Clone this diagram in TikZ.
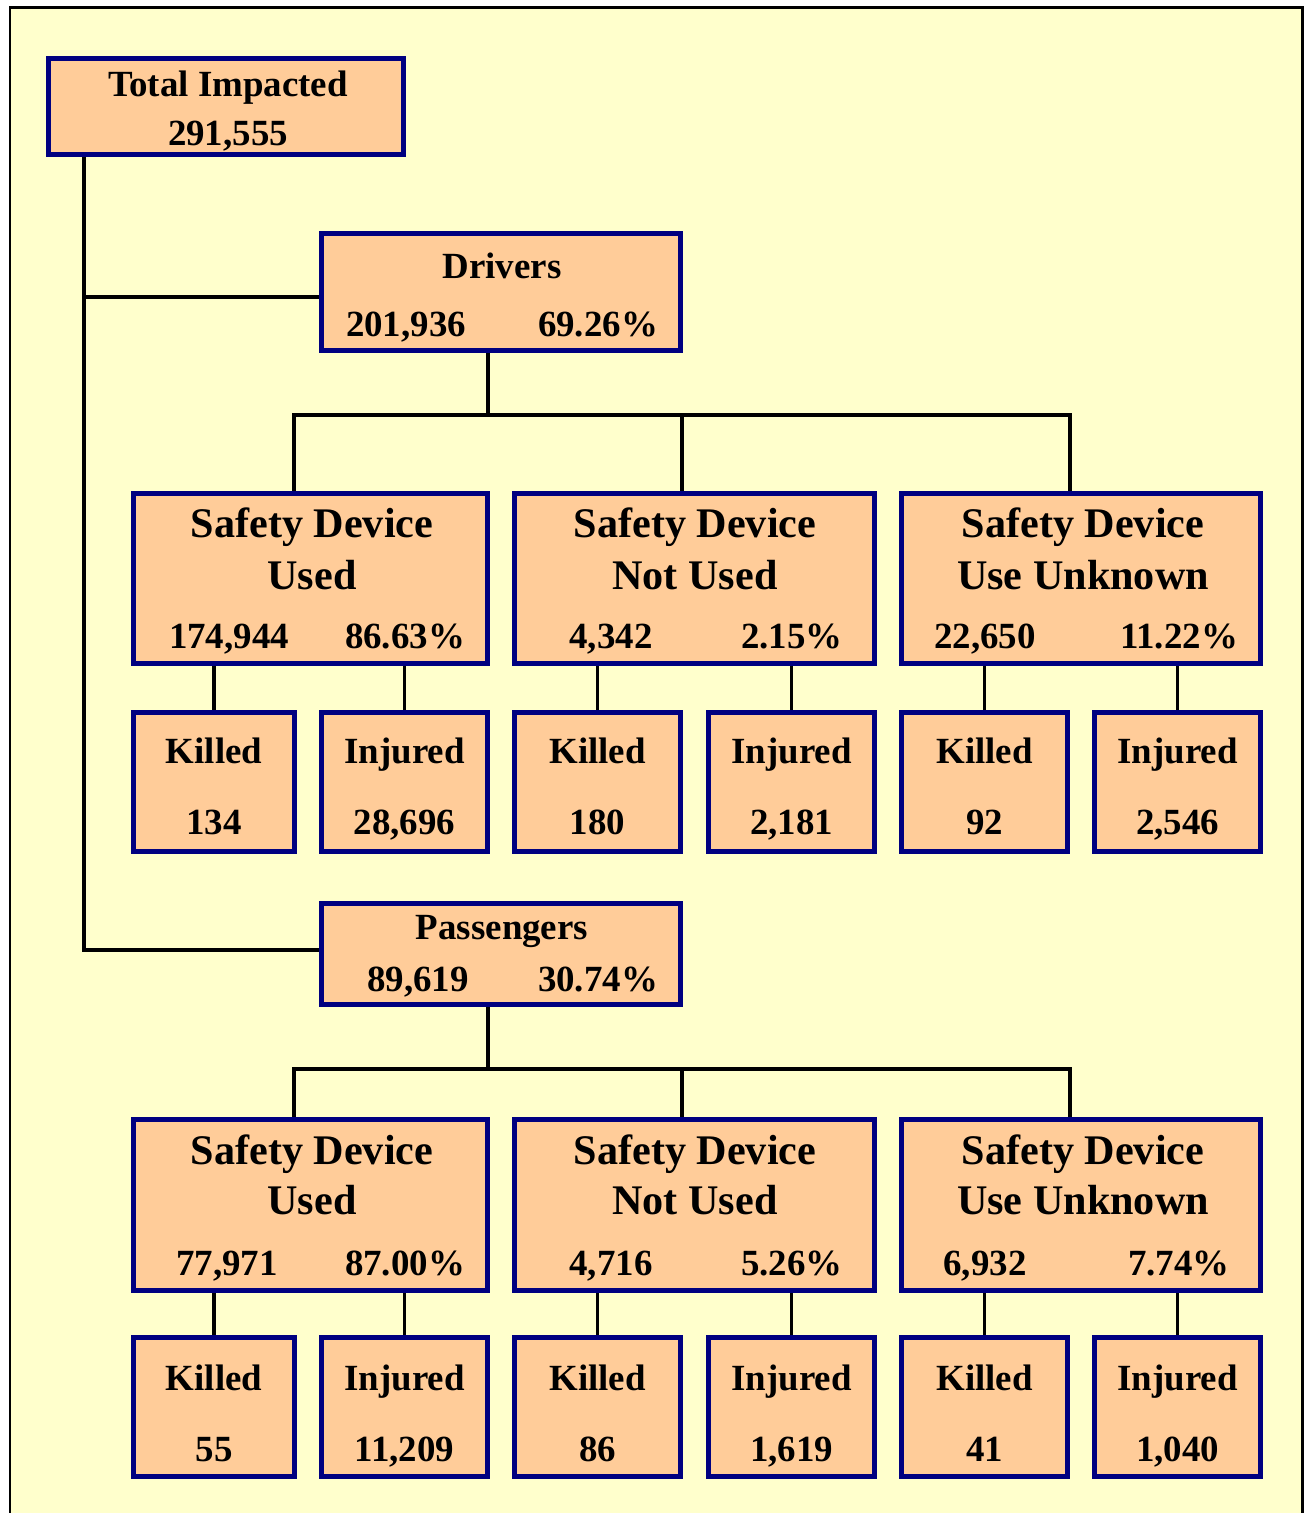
\documentclass[tikz,border=0pt]{standalone}
\usepackage{fontspec}
\setmainfont{Liberation Serif}
\usetikzlibrary{positioning, backgrounds}
\definecolor{paper}{HTML}{FFFFCC}
\definecolor{peach}{HTML}{FFCC99}
\definecolor{navyline}{HTML}{000080}

\begin{document}
\begin{tikzpicture}[x=0.02cm, y=-0.02cm,
    box/.style={draw=navyline, fill=peach, line width=0.115cm, inner sep=0pt},
    head/.style={box, minimum width=7.18cm},
    dev/.style={box, minimum height=3.4cm},
    cnt/.style={box, minimum height=2.78cm},
    txt/.style={anchor=base, inner sep=0pt, font=\fontsize{21}{24}\selectfont\bfseries},
    big/.style={txt, font=\fontsize{24}{28}\selectfont\bfseries},
    link/.style={line width=0.07cm}]
    \useasboundingbox (0,0) rectangle (1308,1513);

    % top and the two groups
    \node[box, minimum width=7.1cm, minimum height=1.92cm] (total) at (226,106.5) {};
    \node[head, minimum height=2.34cm] (drv) at (501,292) {};
    \node[head, minimum height=2.02cm] (pas) at (501,954) {};

    % drivers
    \node[dev, minimum width=7.08cm] (dused) at (310.5,578.5) {};
    \node[dev, minimum width=7.2cm] (dnot) at (694.5,578.5) {};
    \node[dev, minimum width=7.18cm] (dunk) at (1081,578.5) {};
    \node[cnt, minimum width=3.22cm] (dk1) at (214,782) {};
    \node[cnt, minimum width=3.32cm] (di1) at (404.5,782) {};
    \node[cnt, minimum width=3.32cm] (dk2) at (597.5,782) {};
    \node[cnt, minimum width=3.32cm] (di2) at (791.5,782) {};
    \node[cnt, minimum width=3.32cm] (dk3) at (984.5,782) {};
    \node[cnt, minimum width=3.32cm] (di3) at (1177.5,782) {};

    % passengers
    \node[dev, minimum width=7.08cm, minimum height=3.42cm] (pused) at (310.5,1205) {};
    \node[dev, minimum width=7.2cm, minimum height=3.42cm] (pnot) at (694.5,1205) {};
    \node[dev, minimum width=7.18cm, minimum height=3.42cm] (punk) at (1081,1205) {};
    \node[cnt, minimum width=3.22cm] (pk1) at (214,1407) {};
    \node[cnt, minimum width=3.32cm] (pi1) at (404.5,1407) {};
    \node[cnt, minimum width=3.32cm] (pk2) at (597.5,1407) {};
    \node[cnt, minimum width=3.32cm] (pi2) at (791.5,1407) {};
    \node[cnt, minimum width=3.32cm] (pk3) at (984.5,1407) {};
    \node[cnt, minimum width=3.32cm] (pi3) at (1177.5,1407) {};

    % texts
    \node[txt] (ttot) at (228,97) {Total Impacted};
    \node[txt] (ntot) at (228,146) {291,555};
    \node[txt] (tdrv) at (502,279) {Drivers};
    \node[txt] (ndrv) at (406,337) {201,936};
    \node[txt] (pdrv) at (598,337) {69.26\%};
    \node[txt] (tpas) at (502,939) {Passengers};
    \node[txt] (npas) at (418,991) {89,619};
    \node[txt] (ppas) at (598,991) {30.74\%};

    \node[big] (tdu1) at (312,537) {Safety Device};
    \node[big] (tdu2) at (312,589) {Used};
    \node[txt] (ndu) at (229,648) {174,944};
    \node[txt] (pdu) at (405,648) {86.63\%};
    \node[big] (tdn1) at (695,537) {Safety Device};
    \node[big] (tdn2) at (695,589) {Not Used};
    \node[txt] (ndn) at (611,648) {4,342};
    \node[txt] (pdn) at (792,648) {2.15\%};
    \node[big] (tdx1) at (1083,537) {Safety Device};
    \node[big] (tdx2) at (1083,589) {Use Unknown};
    \node[txt] (ndx) at (985,648) {22,650};
    \node[txt] (pdx) at (1179,648) {11.22\%};

    \node[txt] (tdk1) at (214,763) {Killed};    \node[txt] (ndk1) at (214,834) {134};
    \node[txt] (tdi1) at (404.5,763) {Injured}; \node[txt] (ndi1) at (404.5,834) {28,696};
    \node[txt] (tdk2) at (597.5,763) {Killed};  \node[txt] (ndk2) at (597.5,834) {180};
    \node[txt] (tdi2) at (791.5,763) {Injured}; \node[txt] (ndi2) at (791.5,834) {2,181};
    \node[txt] (tdk3) at (984.5,763) {Killed};  \node[txt] (ndk3) at (984.5,834) {92};
    \node[txt] (tdi3) at (1177.5,763) {Injured};\node[txt] (ndi3) at (1177.5,834) {2,546};

    \node[big] (tpu1) at (312,1164) {Safety Device};
    \node[big] (tpu2) at (312,1214) {Used};
    \node[txt] (npu) at (227,1275) {77,971};
    \node[txt] (ppu) at (405,1275) {87.00\%};
    \node[big] (tpn1) at (695,1164) {Safety Device};
    \node[big] (tpn2) at (695,1214) {Not Used};
    \node[txt] (npn) at (611,1275) {4,716};
    \node[txt] (ppn) at (792,1275) {5.26\%};
    \node[big] (tpx1) at (1083,1164) {Safety Device};
    \node[big] (tpx2) at (1083,1214) {Use Unknown};
    \node[txt] (npx) at (985,1275) {6,932};
    \node[txt] (ppx) at (1179,1275) {7.74\%};

    \node[txt] (tpk1) at (214,1390) {Killed};    \node[txt] (npk1) at (214,1461) {55};
    \node[txt] (tpi1) at (404.5,1390) {Injured}; \node[txt] (npi1) at (404.5,1461) {11,209};
    \node[txt] (tpk2) at (597.5,1390) {Killed};  \node[txt] (npk2) at (597.5,1461) {86};
    \node[txt] (tpi2) at (791.5,1390) {Injured}; \node[txt] (npi2) at (791.5,1461) {1,619};
    \node[txt] (tpk3) at (984.5,1390) {Killed};  \node[txt] (npk3) at (984.5,1461) {41};
    \node[txt] (tpi3) at (1177.5,1390) {Injured};\node[txt] (npi3) at (1177.5,1461) {1,040};

    \coordinate (trunk) at (84,0);
    \coordinate (dbus) at (488,415);
    \coordinate (dbl) at (294,415);
    \coordinate (dbm) at (682,415);
    \coordinate (dbr) at (1070,415);
    \coordinate (pbus) at (488,1069);
    \coordinate (pbl) at (294,1069);
    \coordinate (pbm) at (682,1069);
    \coordinate (pbr) at (1070,1069);

    \begin{scope}[on background layer]
      \fill[white] (0,0) rectangle (1308,1513);
      \fill[paper] (10,8) rectangle (1302,1513);
      \draw[line width=0.06cm] (10,1513) -- (10,8) -- (1302,8) -- (1302,1513);

      \draw[link] (total.south -| trunk) -- ([yshift=0.08cm]pas.west -| trunk) -- ([yshift=0.08cm]pas.west);
      \draw[link] ([yshift=-0.1cm]drv.west -| trunk) -- ([yshift=-0.1cm]drv.west);

      \draw[link] (drv.south -| dbus) -- (dbus);
      \draw[link] (dused.north -| dbl) |- (dbr) -- (dunk.north -| dbr);
      \draw[link] (dbm) -- (dnot.north -| dbm);
      \draw[link] (pas.south -| pbus) -- (pbus);
      \draw[link] (pused.north -| pbl) |- (pbr) -- (punk.north -| pbr);
      \draw[link] (pbm) -- (pnot.north -| pbm);

      \path[link]
        (dused.south -| dk1) edge (dk1)
        (dused.south -| di1) edge (di1)
        (dnot.south -| dk2) edge (dk2)
        (dnot.south -| di2) edge (di2)
        (dunk.south -| dk3) edge (dk3)
        (dunk.south -| di3) edge (di3)
        (pused.south -| pk1) edge (pk1)
        (pused.south -| pi1) edge (pi1)
        (pnot.south -| pk2) edge (pk2)
        (pnot.south -| pi2) edge (pi2)
        (punk.south -| pk3) edge (pk3)
        (punk.south -| pi3) edge (pi3);
    \end{scope}
\end{tikzpicture}
\end{document}
